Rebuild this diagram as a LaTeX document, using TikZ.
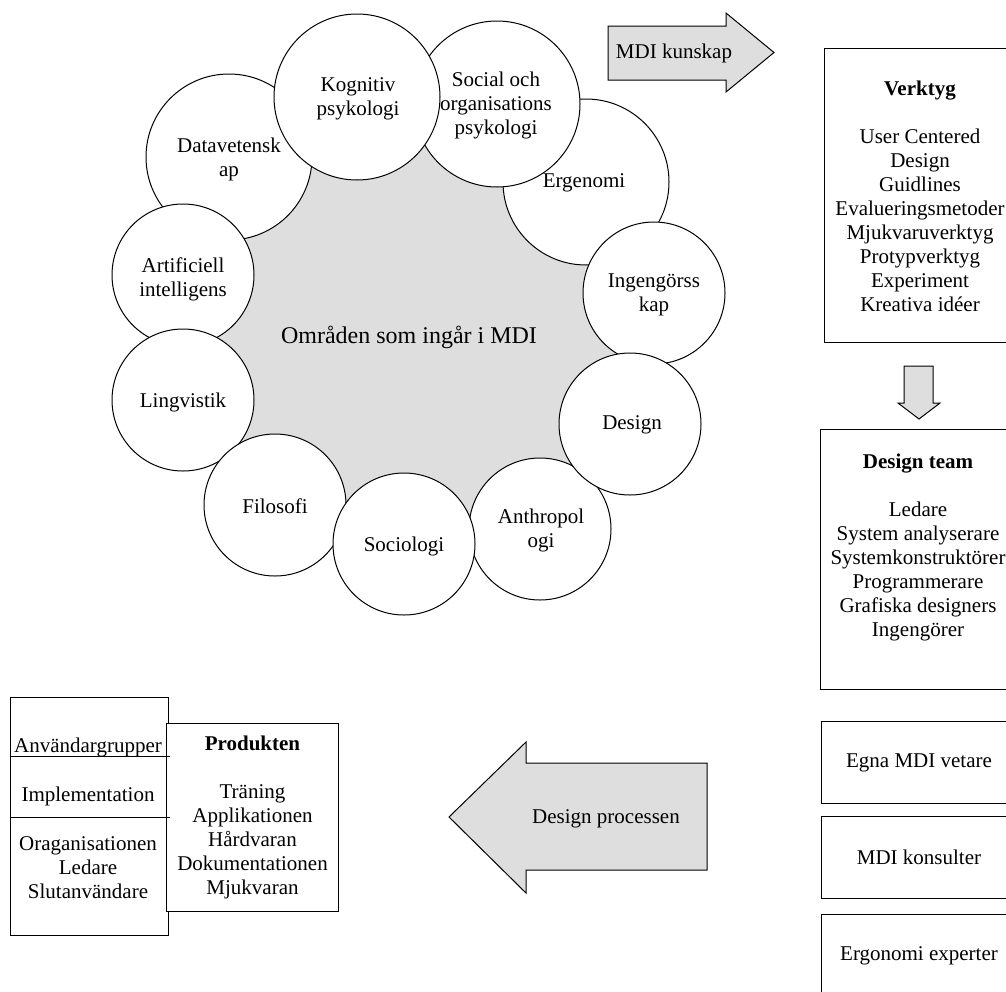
\documentclass[tikz,border=0pt]{standalone}
\usepackage{fontspec}
\setmainfont{Liberation Serif}
\usetikzlibrary{calc}
\definecolor{fillgray}{RGB}{222,222,222}
\begin{document}
\begin{tikzpicture}[x=0.5pt,y=-0.5pt,
  every node/.style={font=\fontsize{10.5}{12}\selectfont, align=center, inner sep=0pt},
  field/.style={circle, draw, fill=white, line width=0.5pt, minimum size=#1},
  panel/.style={draw, fill=white, line width=0.5pt, anchor=north west},
  blockarrow/.style={draw, fill=fillgray, line width=0.5pt, line join=miter},
  rule/.style={line width=0.5pt}]
\useasboundingbox (0,0) rectangle (1006,991);
\clip (0,0) rectangle (1006,991);

% centres of the discipline circles, clockwise from the top
\coordinate (c-kog) at (357,97);
\coordinate (c-soc) at (497,104);
\coordinate (c-erg) at (586,182);
\coordinate (c-ing) at (654,293);
\coordinate (c-des) at (630,424);
\coordinate (c-ant) at (540,529);
\coordinate (c-sci) at (404,544);
\coordinate (c-fil) at (275,505);
\coordinate (c-lin) at (183,400);
\coordinate (c-ai)  at (183,275);
\coordinate (c-dat) at (229,157);

% shaded area inside the ring
\draw[fill=fillgray, line width=0.5pt] (c-kog) -- (c-soc) -- (c-erg) -- (c-ing) -- (c-des)
  -- (c-ant) -- (c-sci) -- (c-fil) -- (c-lin) -- (c-ai) -- (c-dat) -- cycle;

% ring of circles (drawing order gives the overlaps)
\node[field=83pt] (erg) at (c-erg) {};
\node[field=83pt] (soc) at (c-soc) {};
\node[field=83pt] (dat) at (c-dat) {};
\node[field=83pt] (kog) at (c-kog) {};
\node[field=71pt] (ai)  at (c-ai)  {};
\node[field=71pt] (lin) at (c-lin) {};
\node[field=71pt] (fil) at (c-fil) {};
\node[field=71pt] (ant) at (c-ant) {};
\node[field=71pt] (sci) at (c-sci) {};
\node[field=71pt] (ing) at (c-ing) {};
\node[field=71pt] (des) at (c-des) {};

\node (t-kog) at (358,99) {Kognitiv\\psykologi};
\node (t-soc) at (496,105) {Social och\\organisations\\psykologi};
\node (t-erg) at (584,183) {Ergenomi};
\node (t-dat) at (229,159) {Datavetensk\\ap};
\node (t-ai)  at (183,279) {Artificiell\\intelligens};
\node (t-ing) at (654,295) {Ingengörss\\kap};
\node (t-lin) at (183,402) {Lingvistik};
\node (t-fil) at (275,506) {Filosofi};
\node (t-sci) at (404,546) {Sociologi};
\node (t-ant) at (541,530) {Anthropol\\ogi};
\node (t-des) at (632,425) {Design};
\node[font=\fontsize{12}{14}\selectfont] (t-mid) at (409,337) {Områden som ingår i MDI};

% block arrows
\draw[blockarrow] (608,26) -- (726,26) -- (726,13) -- (774,52.5) -- (726,92)
  -- (726,80) -- (608,80) -- cycle;
\node (t-kunskap) at (674,53) {MDI kunskap};

\draw[blockarrow] (904,366) -- (933,366) -- (933,403) -- (940,403) -- (919,419)
  -- (898,403) -- (904,403) -- cycle;

\draw[blockarrow] (707,763) -- (526,763) -- (526,742) -- (449,817) -- (526,893)
  -- (526,870) -- (707,870) -- cycle;
\node (t-process) at (606,819) {Design processen};

% right column
\node[panel, minimum width=96pt, minimum height=147pt] (verktyg) at (824,48) {};
\node (t-verktyg) at (920,196.5) {\textbf{Verktyg}\\[12pt]User Centered\\Design\\Guidlines\\
  Evalueringsmetoder\\Mjukvaruverktyg\\Protypverktyg\\Experiment\\Kreativa idéer};

\node[panel, minimum width=98pt, minimum height=130pt] (team) at (820,429) {};
\node (t-team) at (918,547) {\textbf{Design team}\\[12pt]Ledare\\System analyserare\\
  Systemkonstruktörer\\Programmerare\\Grafiska designers\\Ingengörer};

\node[panel, minimum width=97.5pt, minimum height=41pt] (egna) at (821,721) {};
\node (t-egna) at (egna.center) {Egna MDI vetare};
\node[panel, minimum width=97.5pt, minimum height=41pt] (kons) at (821,816) {};
\node (t-kons) at (kons.center) {MDI konsulter};
\node[panel, minimum width=97.5pt, minimum height=41pt] (ergx) at (821,914) {};
\node (t-ergx) at (ergx.center) {Ergonomi experter};

% user groups and product
\node[panel, minimum width=79pt, minimum height=119pt] (users) at (10,697) {};
\node[panel, minimum width=86.3pt, minimum height=94pt] (prod) at (165.7,722.7)
  {\textbf{Produkten}\\[12pt]Träning\\Applikationen\\Hårdvaran\\Dokumentationen\\Mjukvaran};
\coordinate (rule1-end) at (170,756);
\coordinate (rule2-end) at (170,817);
\draw[rule] (users.west |- rule1-end) -- (rule1-end);
\draw[rule] (users.west |- rule2-end) -- (rule2-end);
\node (t-grp) at (88,747) {Användargrupper};
\node (t-impl) at (88,796) {Implementation};
\node (t-org) at (88,867.5) {Oraganisationen\\Ledare\\Slutanvändare};
\end{tikzpicture}
\end{document}
